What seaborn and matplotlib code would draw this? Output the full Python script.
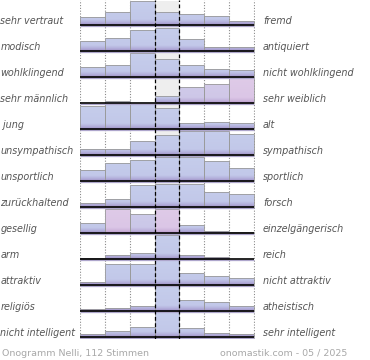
import numpy as np
import matplotlib
matplotlib.use("Agg")
import matplotlib.pyplot as plt
import matplotlib.transforms as mtransforms
import seaborn as sns

# Onogramm data: one row per word pair, 7 answer steps from left word to right word
left_labels = ["sehr vertraut", "modisch", "wohlklingend", "sehr männlich", " jung",
               "unsympathisch", "unsportlich", "zurückhaltend", "gesellig", "arm",
               "attraktiv", "religiös", "nicht intelligent"]
right_labels = ["fremd", "antiquiert", "nicht wohlklingend", "sehr weiblich", "alt",
                "sympathisch", "sportlich", "forsch", "einzelgängerisch", "reich",
                "nicht attraktiv", "atheistisch", "sehr intelligent"]

# bar heights (relative share per step)
vertraut = [7.7, 12.7, 24.5, 12.7, 10.7, 9.3, 4.3]
modisch = [10.3, 13.3, 20.7, 23.3, 12.0, 4.3, 4.3]
wohlklingend = [10.0, 12.3, 24.0, 18.3, 11.7, 8.0, 6.7]
maennlich = [0.0, 0.0, 0.0, 6.7, 15.7, 19.0, 25.0]
jung = [22.7, 27.6, 25.3, 21.0, 6.0, 7.0, 6.0]
unsympathisch = [5.7, 5.7, 14.3, 20.0, 24.3, 24.3, 21.0]
unsportlich = [11.0, 17.7, 21.0, 24.3, 24.3, 20.3, 12.7]
zurueckhaltend = [4.3, 8.0, 21.7, 23.3, 23.3, 15.0, 13.3]
gesellig = [10.0, 23.7, 19.3, 23.7, 8.3, 2.0, 1.0]
arm = [0.6, 4.3, 6.0, 24.3, 4.3, 2.3, 0.0]
attraktiv = [3.3, 20.7, 20.7, 26.0, 12.3, 9.3, 6.7]
religioes = [1.7, 3.3, 4.7, 26.0, 11.3, 9.0, 5.0]
intelligent = [2.7, 6.0, 10.0, 26.0, 8.7, 3.7, 2.7]

rows = [vertraut, modisch, wohlklingend, maennlich, jung, unsympathisch, unsportlich,
        zurueckhaltend, gesellig, arm, attraktiv, religioes, intelligent]

footer_left = "Onogramm Nelli, 112 Stimmen"
footer_right = "onomastik.com - 05 / 2025"

# pinkish bars (row, step): tint amount
pink = {(3, 4): 0.45, (3, 5): 0.55, (3, 6): 1.0, (8, 1): 1.0, (8, 2): 0.35, (8, 3): 1.0}

sns.set_theme(style="white")
plt.rcParams["font.family"] = ["DejaVu Sans"]

W, H = 370, 360
fig = plt.figure(figsize=(W / 100, H / 100), dpi=100)
AX_BOTTOM = 339  # pixel row where the plot area ends
ax = fig.add_axes([80 / W, 1 - AX_BOTTOM / H, 175 / W, AX_BOTTOM / H])
ax.set_axis_off()

ROW = 26
def baseline(i):
    return AX_BOTTOM - 25 - ROW * i

blue_pal = ["#9f90c4", "#b3afdb", "#c2c8e9", "#c6ceec"]
pink_pal = ["#b99bcb", "#ceb5dc", "#dbc6e6", "#dfcbe8"]

def bar_colors(h, tint):
    n = max(2, int(h * 3))
    d = np.linspace(0, h, n)
    stops = np.array([0.0, 2.5, 5.5, 26.0])
    out = []
    for ch in range(3):
        b = [matplotlib.colors.to_rgb(c)[ch] for c in blue_pal]
        p = [matplotlib.colors.to_rgb(c)[ch] for c in pink_pal]
        cb = np.interp(d, stops, b)
        cp = np.interp(d, stops, p)
        out.append(cb * (1 - tint) + cp * tint)
    return np.stack(out, axis=-1)[:, None, :]

steps = np.arange(7)

# dotted step borders, behind everything
for xv in [0, 1, 2, 5, 6, 7]:
    ax.axvline(xv, color="#8a8a8a", lw=0.8, ls=(0, (1, 1.5)), zorder=0)

for i, vals in enumerate(rows):
    y0 = baseline(i)
    # light grey background of the middle step
    ax.bar(3, 24.5, bottom=y0, width=1, align="edge", color="#eeeeee", lw=0, zorder=1 + i * 0.01)
    bars = ax.bar(steps, vals, bottom=y0, width=1, align="edge",
                  facecolor="none", edgecolor="#9a9a9a", lw=0.6, zorder=2.5 + i * 0.01)
    for j, (patch, h) in enumerate(zip(bars.patches, vals)):
        if h <= 0:
            patch.set_visible(False)
            continue
        img = ax.imshow(bar_colors(h, pink.get((i, j), 0.0)), origin="lower",
                        extent=[j, j + 1, y0, y0 + h], aspect="auto",
                        interpolation="bilinear", zorder=2 + i * 0.01)
        img.set_clip_path(patch)
    # small shadow right of the last step
    if vals[-1] > 0:
        ax.plot([7.03, 7.03], [y0, y0 + vals[-1] - 0.5], color="#b0b0b0", lw=0.7,
                zorder=2.6, solid_capstyle="butt")

for i in range(len(rows)):
    y0 = baseline(i)
    ax.plot([0, 7], [y0 - 1.3, y0 - 1.3], color="#aea6cc", lw=0.9, zorder=4.9,
            solid_capstyle="butt")
    ax.plot([0, 7], [y0, y0], color="black", lw=1.2, zorder=5, solid_capstyle="butt")

for xv in [3, 4]:
    ax.axvline(xv, color="black", lw=0.9, ls=(0, (3, 2)), zorder=6)

ax.set_xlim(0, 7.04)
ax.set_ylim(0, AX_BOTTOM)

trans = mtransforms.blended_transform_factory(fig.transFigure, ax.transData)
txt = dict(fontsize=6.9, style="italic", color="#555555", va="baseline", transform=trans)
for i, (ll, rl) in enumerate(zip(left_labels, right_labels)):
    y0 = baseline(i) + 1.2
    ax.text(0.5 / W, y0, ll, ha="left", **txt)
    ax.text(263 / W, y0, rl, ha="left", **txt)

fig.text(1.5 / W, 1 - 356 / H, footer_left, fontsize=6.8, color="#a8a8a8", va="baseline")
fig.text(220 / W, 1 - 356 / H, footer_right, fontsize=6.8, color="#a8a8a8", va="baseline")

fig.savefig("out.png", dpi=100)
